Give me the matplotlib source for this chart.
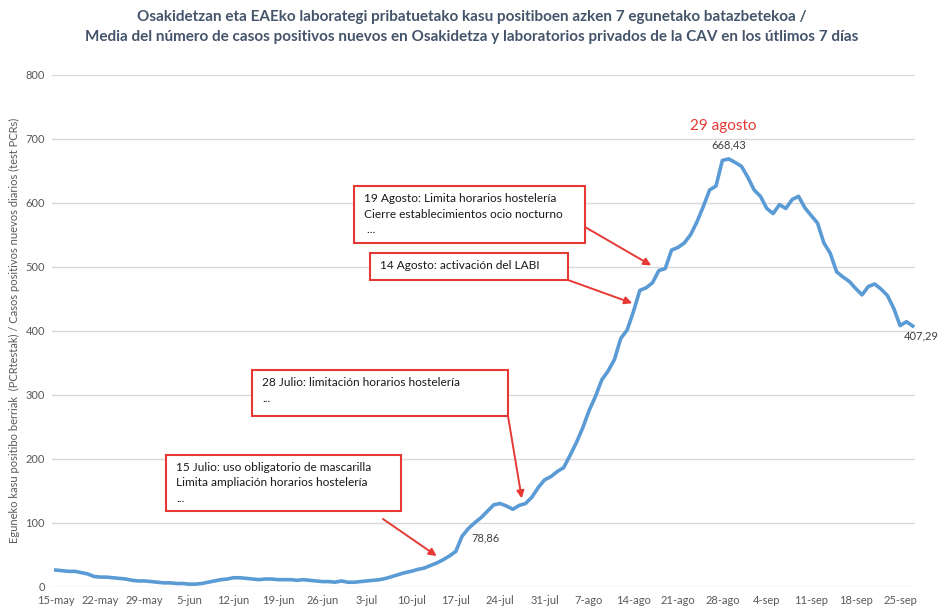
import numpy as np
import matplotlib
matplotlib.use('Agg')
import matplotlib.pyplot as plt
from matplotlib.patches import Rectangle

plt.rcParams['font.family'] = ['Lato', 'DejaVu Sans']

# daily 7-day mean of new positive cases, 15-may .. 27-sep
casos = [26, 25, 24, 24, 22, 20, 16, 15, 15, 14,
         13, 12, 10, 9, 9, 8, 7, 6, 6, 5,
         5, 4, 4, 5, 7, 9, 11, 12, 14, 14,
         13, 12, 11, 12, 12, 11, 11, 11, 10, 11,
         10, 9, 8, 8, 7, 9, 7, 7, 8, 9,
         10, 11, 13, 16, 19, 22, 24, 27, 29, 33,
         37, 42, 48, 55, 78.86, 91, 100, 108, 118, 128,
         130, 126, 121, 127, 130, 140, 155, 167, 172, 180,
         186, 205, 225, 248, 275, 297, 323, 337, 355, 388,
         401, 430, 463, 467, 475, 494, 497, 526, 530, 537,
         550, 570, 594, 620, 626, 666, 668.43, 663, 657, 640,
         620, 610, 591, 583, 597, 591, 605, 610, 592, 580,
         568, 537, 521, 492, 484, 477, 466, 456, 469, 473,
         465, 455, 435, 408, 414, 407.29]

tick_labels = ['15-may', '22-may', '29-may', '5-jun', '12-jun', '19-jun', '26-jun',
               '3-jul', '10-jul', '17-jul', '24-jul', '31-jul', '7-ago', '14-ago',
               '21-ago', '28-ago', '4-sep', '11-sep', '18-sep', '25-sep']

notas = ['15 Julio: uso obligatorio de mascarilla\nLimita ampliación horarios hostelería\n...',
         '28 Julio: limitación horarios hostelería\n...',
         '14 Agosto: activación del LABI',
         '19 Agosto: Limita horarios hostelería\nCierre establecimientos ocio nocturno\n ...']
# arrow tips (day index, value)
flechas = [(60, 48), (73.4, 138), (90.8, 443), (93.8, 502)]

W, H = 944, 611


def fx(x):
    return x / W


def fy(y):
    return 1 - y / H


fig = plt.figure(figsize=(W / 100, H / 100), dpi=100)
ax = fig.add_axes([fx(52), fy(586.7), fx(915) - fx(52), fy(74.7) - fy(586.7)])

dias = np.arange(len(casos))
ax.plot(dias, casos, color='#5B9BD5', lw=2.6, solid_joinstyle='round')

ax.set_xlim(-0.6, 135.35)
ax.set_ylim(0, 800)
ax.set_yticks(range(0, 801, 100))
ax.set_xticks(range(0, 134, 7))
ax.set_xticklabels(tick_labels)
ax.grid(axis='y', color='#D9D9D9', lw=1)
ax.set_axisbelow(True)
for s in ax.spines.values():
    s.set_visible(False)
ax.tick_params(length=0, labelsize=8, labelcolor='#595959')
ax.tick_params(axis='x', pad=6)
ax.tick_params(axis='y', pad=5)
ax.set_ylabel('Eguneko kasu positibo berriak  (PCRtestak) / Casos positivos nuevos diarios (test PCRs)',
              fontsize=8, color='#595959', labelpad=4)

fig.text(0.5, fy(17), 'Osakidetzan eta EAEko laborategi pribatuetako kasu positiboen azken 7 egunetako batazbetekoa /',
         ha='center', va='center', fontsize=11, fontweight='bold', color='#44546A')
fig.text(0.5, fy(37), 'Media del número de casos positivos nuevos en Osakidetza y laboratorios privados de la CAV en los útlimos 7 días',
         ha='center', va='center', fontsize=11, fontweight='bold', color='#44546A')

# data labels
imax = int(np.argmax(casos))
ax.annotate(f'{casos[imax]:.2f}'.replace('.', ','), (imax, casos[imax]), xytext=(0, 10),
            textcoords='offset points', ha='center', va='center', fontsize=8, color='#404040')
ax.annotate('29 agosto', (imax, casos[imax]), xytext=(-4, 24), textcoords='offset points',
            ha='center', va='center', fontsize=11, color='#E53935')
ax.annotate(f'{casos[-1]:.2f}'.replace('.', ','), (len(casos) - 1, casos[-1]), xytext=(6, -7),
            textcoords='offset points', ha='center', va='center', fontsize=8, color='#404040')
ax.annotate(f'{casos[64]:.2f}'.replace('.', ','), (64, casos[64]), xytext=(17, -1),
            textcoords='offset points', ha='center', va='center', fontsize=8, color='#404040')

# boxes: left, top, right, bottom in pixels; arrow start in pixels
cajas = [(166, 455, 401, 511), (252, 370, 508, 416), (370, 253, 568, 280), (354, 186, 585, 243)]
origen = [(383, 519), (508, 416), (568, 280), (585, 227)]
for texto, (l, t, r, b), (ox, oy), tip in zip(notas, cajas, origen, flechas):
    fig.add_artist(Rectangle((fx(l), fy(b)), fx(r) - fx(l), fy(t) - fy(b), transform=fig.transFigure,
                             facecolor='white', edgecolor='#E53935', lw=1.5, zorder=5))
    fig.text(fx(l + 10), fy(t + 7), texto, ha='left', va='top', fontsize=8.6, color='#1a1a1a',
             linespacing=1.5, zorder=6)
    ax.annotate('', xy=tip, xycoords='data', xytext=(fx(ox), fy(oy)), textcoords='figure fraction',
                arrowprops=dict(arrowstyle='-|>', color='#E53935', lw=1.4, mutation_scale=11,
                                shrinkA=0, shrinkB=0), zorder=6)

fig.savefig('out.png', dpi=100)
